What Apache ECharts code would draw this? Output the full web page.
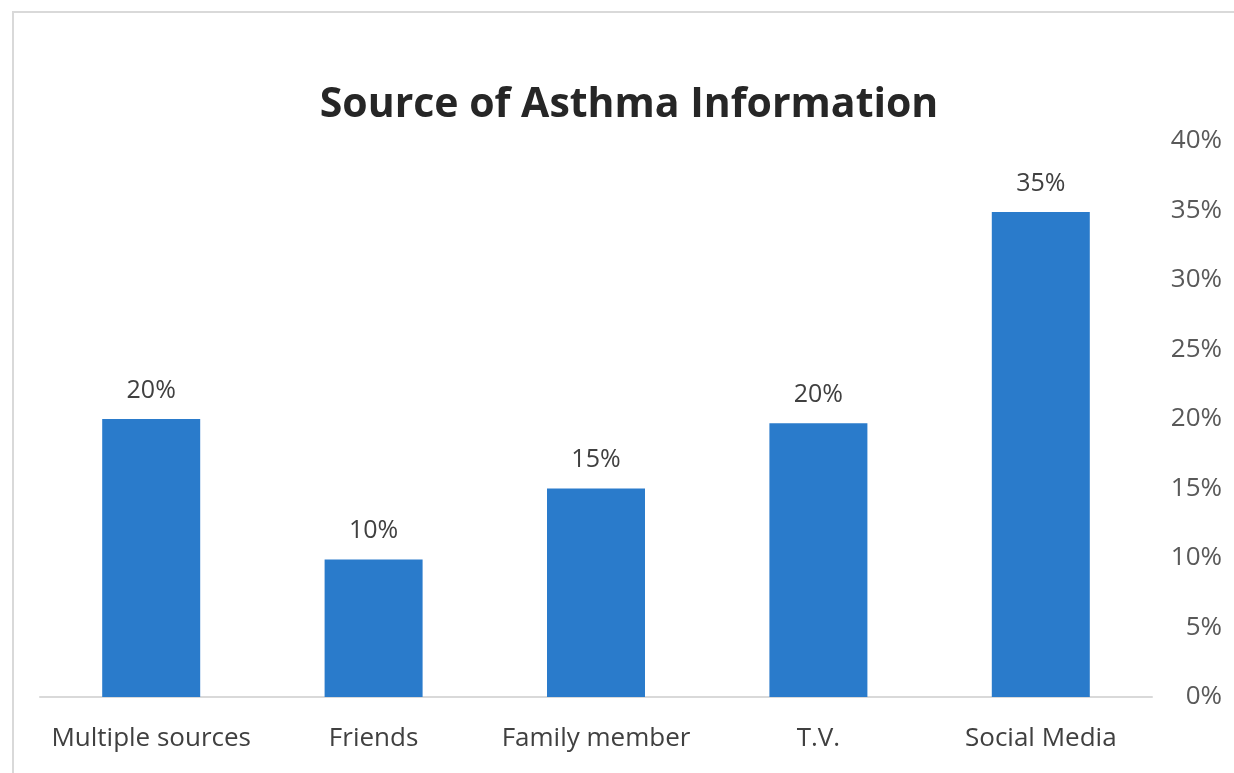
<!DOCTYPE html>
<html>
<head>
<meta charset="utf-8">
<script src="https://cdn.jsdelivr.net/npm/echarts@6/dist/echarts.min.js"></script>
<style>
  html, body { margin: 0; padding: 0; background: #fff; }
  #frame {
    position: absolute; left: 12px; top: 11px; right: 0; bottom: 0;
    border-top: 2px solid #d9d9d9; border-left: 2px solid #d9d9d9;
  }
  #chart { position: absolute; left: 0; top: 0; width: 1234px; height: 773px; }
</style>
</head>
<body>
<div id="frame"></div>
<div id="chart"></div>
<script>
// data
const categories = ['Multiple sources', 'Friends', 'Family member', 'T.V.', 'Social Media']
const shares = [0.200, 0.099, 0.150, 0.197, 0.349]
const tickStep = 0.05

const myChart = echarts.init(document.getElementById('chart'))
myChart.setOption({
    title: {
        text: 'Source of Asthma Information',
        left: 624,
        textAlign: 'center',
        top: 80,
        textStyle: { color: '#262626', fontSize: 41, fontWeight: 'bold', fontFamily: 'Open Sans' }
    },
    grid: { left: 40, right: 82, top: 141, bottom: 76 },
    xAxis: {
        type: 'category',
        data: categories,
        axisLine: { lineStyle: { color: '#d9d9d9', width: 2 } },
        axisTick: { show: false },
        axisLabel: { color: '#404040', fontSize: 26, fontFamily: 'Open Sans', margin: 29, interval: 0 }
    },
    yAxis: {
        type: 'value',
        position: 'right',
        min: 0,
        max: 0.4,
        interval: tickStep,
        axisLine: { show: false },
        axisTick: { show: false },
        splitLine: { show: false },
        axisLabel: {
            color: '#595959', fontSize: 26, fontFamily: 'Open Sans',
            align: 'right', margin: 70,
            formatter: v => Math.round(v * 100) + '%'
        }
    },
    series: [{
        type: 'bar',
        data: shares,
        barWidth: 98,
        itemStyle: { color: '#2a7bcb' },
        label: {
            show: true,
            position: 'top',
            distance: 16,
            color: '#404040',
            fontSize: 25,
            fontFamily: 'Open Sans',
            formatter: p => Math.round(p.value * 100) + '%'
        }
    }]
})
</script>
</body>
</html>
